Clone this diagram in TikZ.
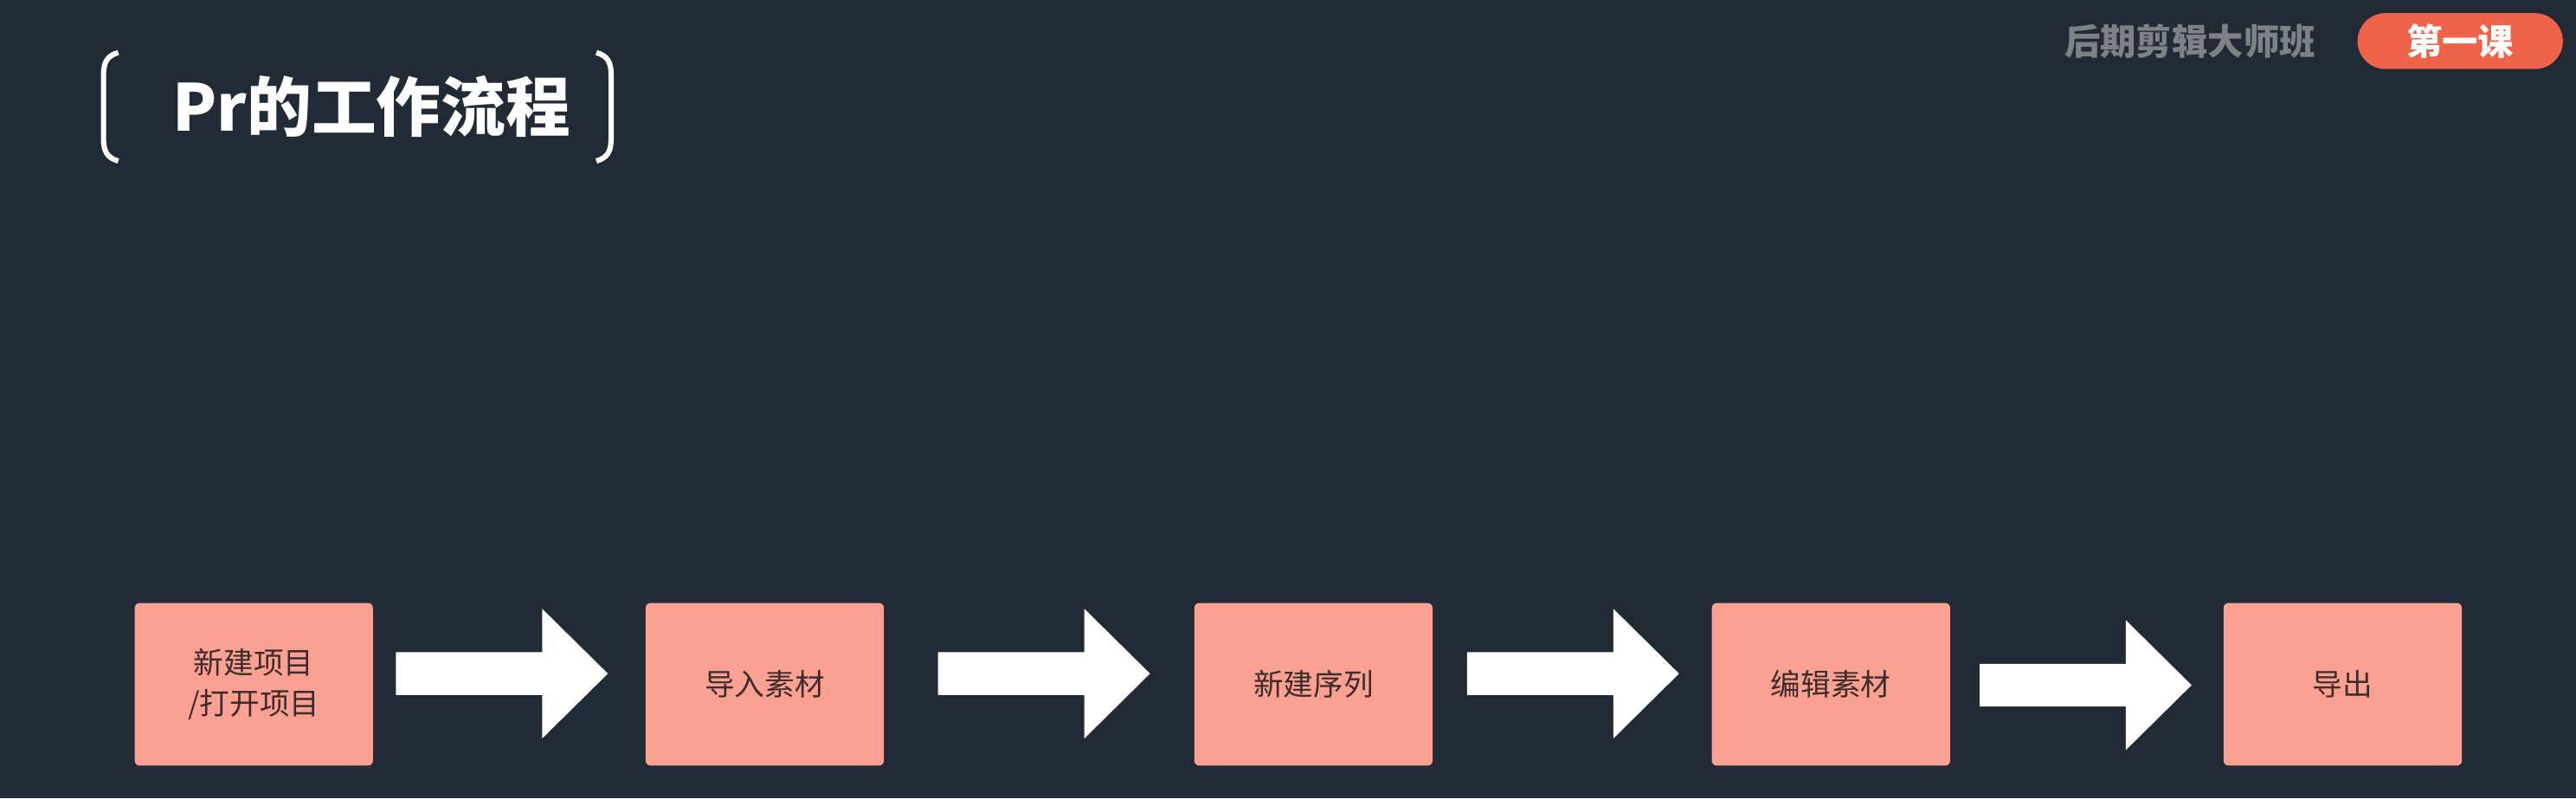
\documentclass[tikz,border=0pt]{standalone}
\usepackage{fontspec}
\setmainfont{Noto Sans CJK SC}
\usetikzlibrary{calc}

\definecolor{bgnavy}{HTML}{222A35}
\definecolor{boxpink}{HTML}{FBA194}
\definecolor{boxtext}{HTML}{3E2C2A}
\definecolor{pillred}{HTML}{EF634A}
\definecolor{headgray}{HTML}{7E8287}

\begin{document}
\begin{tikzpicture}[x=0.5mm, y=-0.5mm]

        % Styles for the boxes and the block arrows between them
        \tikzset{
            stepbox/.style={fill=boxpink, rounded corners=1.5mm, inner sep=0pt,
                minimum width=72.5mm, minimum height=49.5mm, text=boxtext,
                align=center, font=\fontsize{26}{35}\selectfont},
            flowarrow/.style={fill=white},
            bracket/.style={draw=white, line width=1.6mm}
        }

        % Slide background, also fixes the size of the page
        \fill[bgnavy] (0, 0) rectangle (1568, 486);
        \useasboundingbox (0, 0) rectangle (1568, 486);

        % Header in the top right corner
        \node[text=headgray, font=\bfseries\fontsize{31}{34}\selectfont] (course) at (1333, 25) {后期剪辑大师班};
        \node[fill=pillred, text=white, rounded corners=8.5mm, inner sep=0pt,
            minimum width=62.5mm, minimum height=17mm,
            font=\bfseries\fontsize{31}{34}\selectfont] (lesson) at (1497.5, 25) {第一课};

        % Title between two brackets
        \node[text=white, anchor=west, inner sep=0pt,
            font=\bfseries\fontsize{56}{60}\selectfont] (title) at (105, 65) {Pr的工作流程};

        \begin{scope}[bracket]
            \draw (72, 32) .. controls (65, 34) and (63, 38) .. (63, 46)
                -- (63, 84) .. controls (63, 92) and (65, 96) .. (72, 98);
            \draw (363, 32) .. controls (370, 34) and (372, 38) .. (372, 46)
                -- (372, 84) .. controls (372, 92) and (370, 96) .. (363, 98);
        \end{scope}

        % Steps of the workflow, left to right
        \node[stepbox] (S1) at (154.5, 416.5) {新建项目\\/打开项目};
        \node[stepbox] (S2) at (465.5, 416.5) {导入素材};
        \node[stepbox] (S3) at (799.5, 416.5) {新建序列};
        \node[stepbox] (S4) at (1114.5, 416.5) {编辑素材};
        \node[stepbox] (S5) at (1426, 416.5) {导出};

        % Left end of the shaft of each arrow, at its middle
        \coordinate (T1) at (241, 410);
        \coordinate (T2) at (571, 410);
        \coordinate (T3) at (893, 410);
        \coordinate (T4) at (1205, 417);

        \begin{scope}[flowarrow]
            \fill (T1) -- ++(0, -13) -- ++(89, 0) -- ++(0, -26.5) -- ++(40, 39.5)
                -- ++(-40, 39.5) -- ++(0, -26.5) -- ++(-89, 0) -- cycle;
            \fill (T2) -- ++(0, -13) -- ++(89, 0) -- ++(0, -26.5) -- ++(40, 39.5)
                -- ++(-40, 39.5) -- ++(0, -26.5) -- ++(-89, 0) -- cycle;
            \fill (T3) -- ++(0, -13) -- ++(89, 0) -- ++(0, -26.5) -- ++(40, 39.5)
                -- ++(-40, 39.5) -- ++(0, -26.5) -- ++(-89, 0) -- cycle;
            \fill (T4) -- ++(0, -13) -- ++(89, 0) -- ++(0, -26.5) -- ++(40, 39.5)
                -- ++(-40, 39.5) -- ++(0, -26.5) -- ++(-89, 0) -- cycle;
        \end{scope}

\end{tikzpicture}
\end{document}
